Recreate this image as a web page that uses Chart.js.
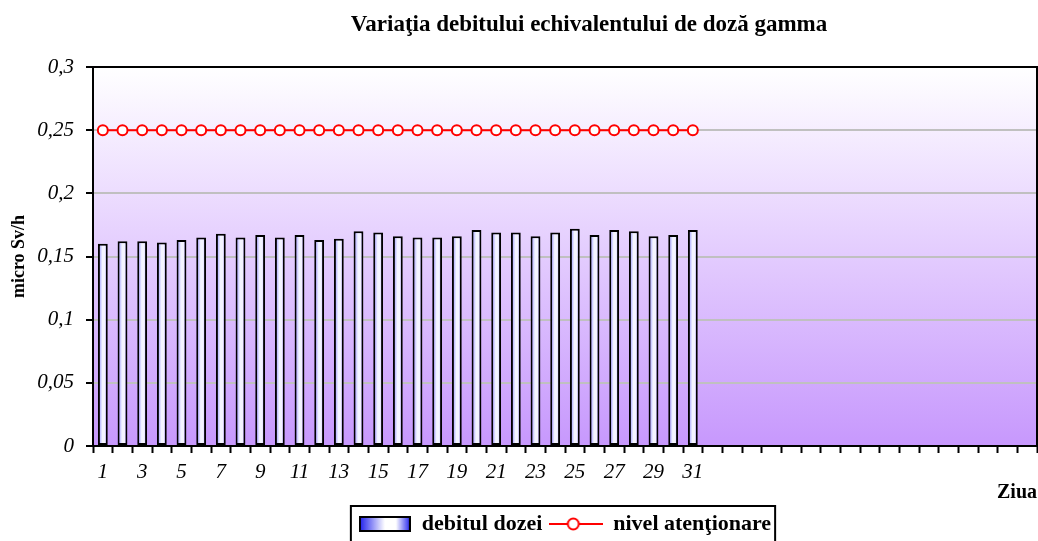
<!DOCTYPE html>
<html>
<head>
<meta charset="utf-8">
<script src="https://cdn.jsdelivr.net/npm/chart.js@4.4.1/dist/chart.umd.min.js"></script>
<style>
	html, body { margin: 0; padding: 0; background: #ffffff; }
	#wrapper-chart-doza { width: 1038px; height: 541px; position: relative; }
</style>
</head>
<body>
<div id="wrapper-chart-doza"><canvas id="chart-doza"></canvas></div>
<script>
const chartTitle = "Variaţia debitului echivalentului de doză gamma";

// categories: 31 days, the rest of the axis is left empty
const days = [
	"1", "2", "3", "4", "5", "6", "7", "8", "9", "10",
	"11", "12", "13", "14", "15", "16", "17", "18", "19", "20",
	"21", "22", "23", "24", "25", "26", "27", "28", "29", "30", "31",
	"", "", "", "", "", "", "", "", "", "", "", "", "", "", "", "", "",
];

// micro Sv/h
const debitDoza = [
	0.160, 0.162, 0.162, 0.161, 0.163, 0.165, 0.168, 0.165, 0.167, 0.165,
	0.167, 0.163, 0.164, 0.170, 0.169, 0.166, 0.165, 0.165, 0.166, 0.171,
	0.169, 0.169, 0.166, 0.169, 0.172, 0.167, 0.171, 0.170, 0.166, 0.167, 0.171,
];

const nivelAtentionare = [
	0.25, 0.25, 0.25, 0.25, 0.25, 0.25, 0.25, 0.25, 0.25, 0.25,
	0.25, 0.25, 0.25, 0.25, 0.25, 0.25, 0.25, 0.25, 0.25, 0.25,
	0.25, 0.25, 0.25, 0.25, 0.25, 0.25, 0.25, 0.25, 0.25, 0.25, 0.25,
];

const fontFamily = "'Liberation Serif', 'Times New Roman', serif";

// legend swatches
function barSwatch() {
	const c = document.createElement("canvas");
	c.width = 52;
	c.height = 16;
	const g = c.getContext("2d");
	const grad = g.createLinearGradient(1, 0, 51, 0);
	grad.addColorStop(0, "#2222ee");
	grad.addColorStop(0.5, "#ffffff");
	grad.addColorStop(0.72, "#ffffff");
	grad.addColorStop(1, "#2a2af0");
	g.fillStyle = grad;
	g.fillRect(1, 1, 50, 14);
	g.lineWidth = 2;
	g.strokeStyle = "#000000";
	g.strokeRect(1, 1, 50, 14);
	return c;
}

function lineSwatch() {
	const c = document.createElement("canvas");
	c.width = 54;
	c.height = 16;
	const g = c.getContext("2d");
	g.strokeStyle = "#ff0000";
	g.lineWidth = 2;
	g.beginPath();
	g.moveTo(0, 8);
	g.lineTo(54, 8);
	g.stroke();
	g.beginPath();
	g.arc(24, 8, 5.5, 0, Math.PI * 2);
	g.fillStyle = "#ffffff";
	g.fill();
	g.stroke();
	return c;
}

const swatches = [barSwatch(), lineSwatch()];

const plotDecor = {
	id: "plotDecor",
	beforeDraw(chart) {
		const { ctx, chartArea } = chart;
		const grad = ctx.createLinearGradient(0, chartArea.top, 0, chartArea.bottom);
		grad.addColorStop(0, "#ffffff");
		grad.addColorStop(1, "#c798fd");
		ctx.save();
		ctx.fillStyle = grad;
		ctx.fillRect(chartArea.left, chartArea.top, chartArea.right - chartArea.left, chartArea.bottom - chartArea.top);
		ctx.restore();
	},
	afterDraw(chart) {
		const { ctx, chartArea } = chart;
		ctx.save();
		ctx.strokeStyle = "#000000";
		ctx.lineWidth = 2;
		ctx.strokeRect(chartArea.left, chartArea.top, chartArea.right - chartArea.left, chartArea.bottom - chartArea.top);

		// box around the legend
		const hb = chart.legend.legendHitBoxes;
		if (hb && hb.length) {
			const last = hb[hb.length - 1];
			const x0 = hb[0].left - 8;
			const x1 = last.left + last.width + 4;
			const y0 = chart.legend.top + 1;
			ctx.strokeRect(x0, y0, x1 - x0, chart.height + 10 - y0);
		}

		// title
		ctx.fillStyle = "#000000";
		ctx.font = "bold 23px " + fontFamily;
		ctx.textAlign = "center";
		ctx.textBaseline = "middle";
		ctx.fillText(chartTitle, 589, 25);
		ctx.restore();
	},
};

function barFill(context) {
	const chart = context.chart;
	const xs = chart.scales.x;
	if (context.type !== "data" || !xs || !chart.chartArea) return "#eeeeff";
	const cx = xs.getPixelForValue(context.dataIndex);
	const half = (xs.width / days.length) * 0.25;
	const grad = chart.ctx.createLinearGradient(cx - half, 0, cx + half, 0);
	grad.addColorStop(0, "#8080ff");
	grad.addColorStop(0.45, "#f4f4ff");
	grad.addColorStop(0.7, "#f4f4ff");
	grad.addColorStop(1, "#9090ff");
	return grad;
}

function formatComma(v) {
	return String(parseFloat(Number(v).toFixed(2))).replace(".", ",");
}

const ctx = document.getElementById("chart-doza").getContext("2d");

new Chart(ctx, {
	data: {
		labels: days,
		datasets: [
			{
				type: "line",
				label: "nivel atenţionare",
				data: nivelAtentionare,
				borderColor: "#ff0000",
				borderWidth: 2,
				pointRadius: 5,
				pointBorderWidth: 2,
				pointBorderColor: "#ff0000",
				pointBackgroundColor: "#ffffff",
				order: 0,
			},
			{
				type: "bar",
				label: "debitul dozei",
				data: debitDoza,
				backgroundColor: barFill,
				borderColor: "#000000",
				borderWidth: 2,
				borderSkipped: false,
				categoryPercentage: 1,
				barPercentage: 0.5,
				order: 1,
			},
		],
	},
	options: {
		responsive: true,
		maintainAspectRatio: false,
		animation: false,
		layout: {
			autoPadding: false,
			padding: { top: 67, right: 1, left: 0, bottom: 0 },
		},
		scales: {
			x: {
				offset: true,
				afterFit: (scale) => {
					scale.height = 59;
					scale.paddingLeft = 0;
					scale.paddingRight = 0;
				},
				grid: {
					offset: true,
					drawOnChartArea: false,
					drawTicks: true,
					tickLength: 7,
					tickColor: "#000000",
					tickWidth: 2,
				},
				border: { display: false },
				ticks: {
					autoSkip: false,
					maxRotation: 0,
					padding: 7,
					color: "#000000",
					font: { family: fontFamily, size: 21, style: "italic" },
					callback: function (value, idx) {
						return idx % 2 === 0 ? this.getLabelForValue(value) : "";
					},
				},
				title: {
					display: true,
					text: "Ziua",
					align: "end",
					color: "#000000",
					font: { family: fontFamily, size: 20, weight: "bold" },
					padding: { top: 0, bottom: 0 },
				},
			},
			y: {
				min: 0,
				max: 0.3,
				afterFit: (scale) => {
					scale.width = 93;
				},
				grid: {
					color: "#c0c0c0",
					lineWidth: 2,
					tickLength: 7,
					tickColor: "#000000",
					tickWidth: 2,
				},
				border: { display: false },
				ticks: {
					stepSize: 0.05,
					padding: 12,
					color: "#000000",
					font: { family: fontFamily, size: 21, style: "italic" },
					callback: formatComma,
				},
				title: {
					display: true,
					text: "micro Sv/h",
					color: "#000000",
					font: { family: fontFamily, size: 18, weight: "bold" },
					padding: { top: 9, bottom: 0 },
				},
			},
		},
		plugins: {
			title: { display: false },
			tooltip: { enabled: false },
			legend: {
				display: true,
				position: "bottom",
				fullSize: false,
				maxHeight: 36,
				labels: {
					usePointStyle: true,
					pointStyleWidth: 52,
					padding: 8,
					color: "#000000",
					font: { family: fontFamily, size: 22, weight: "bold" },
					generateLabels: function (chart) {
						const items = Chart.defaults.plugins.legend.labels.generateLabels(chart);
						items.forEach((it) => {
							it.pointStyle = swatches[it.datasetIndex === 1 ? 0 : 1];
						});
						return items.sort((a, b) => b.datasetIndex - a.datasetIndex);
					},
				},
			},
		},
	},
	plugins: [plotDecor],
});
</script>
</body>
</html>
